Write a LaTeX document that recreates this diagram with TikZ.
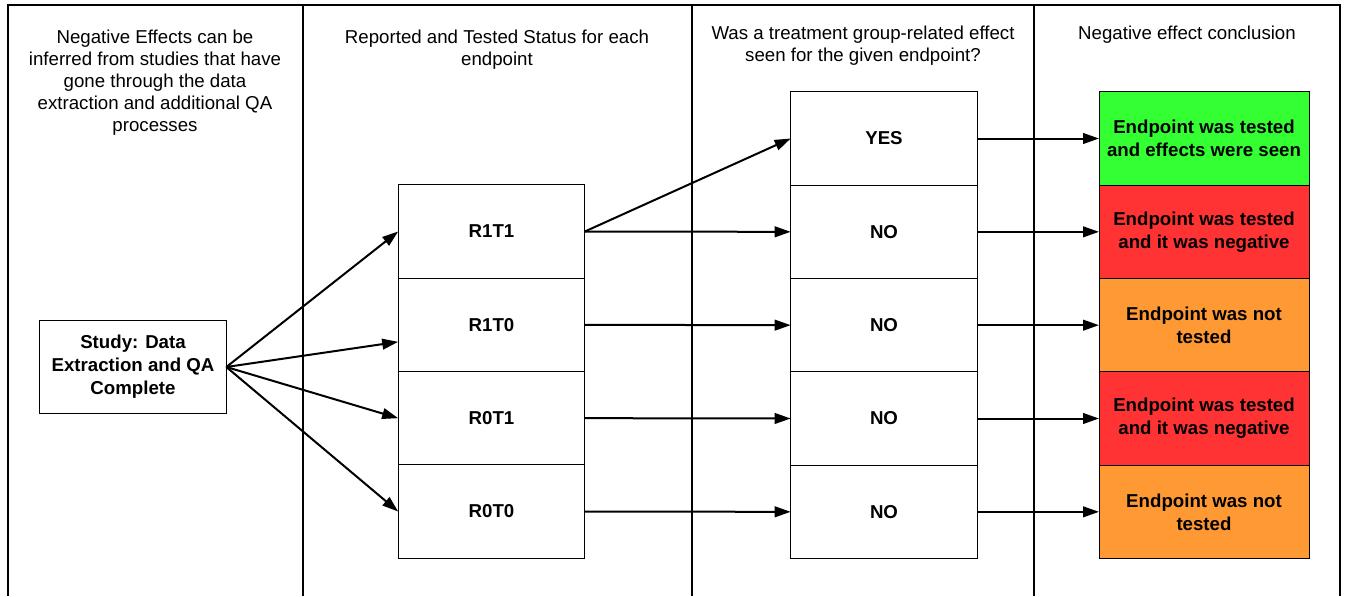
\documentclass[tikz,border=0pt]{standalone}
\usepackage{fontspec}
\setmainfont{Liberation Sans}
\usetikzlibrary{arrows.meta,positioning}
\definecolor{brightgreen}{RGB}{51,255,51}
\definecolor{brightred}{RGB}{255,51,51}
\definecolor{brightorange}{RGB}{255,153,51}

\begin{document}
\begin{tikzpicture}[x=0.75pt, y=-0.75pt, head/.style={align=center, anchor=north, inner sep=0pt, font=\fontsize{14}{16.5}\selectfont}, box/.style={draw, line width=0.75pt, align=center, outer sep=0pt, minimum width=140pt, minimum height=70pt, font=\fontsize{14}{17.25}\selectfont\bfseries}, cbox/.style={box, minimum width=157.5pt}, arr/.style={-{Triangle[length=12pt,width=8pt]}, line width=1.5pt}]
\useasboundingbox (0,0) rectangle (1349,596);
% frame and columns
\draw[line width=1pt] (8,596) -- (8,5) -- (1340,5) -- (1340,596);
\draw[line width=1pt] (303,5) -- (303,596);
\draw[line width=1pt] (692,5) -- (692,596);
\draw[line width=2pt] (1034,5) -- (1034,596);
\node[head] (h1) at (155,30) {Negative Effects can be\\inferred from studies that have\\gone through the data\\extraction and additional QA\\processes};
\node[head] (h2) at (497,30) {Reported and Tested Status for each\\endpoint};
\node[head] (h3) at (863,26) {Was a treatment group-related effect\\seen for the given endpoint?};
\node[head] (h4) at (1187,26) {Negative effect conclusion};
% study
\node[box] (study) at (133,367) {Study: Data\\Extraction and QA\\Complete};
% reported / tested
\node[box] (r11) at (491.5,231.5) {R1T1};
\node[box, below=0pt of r11] (r10) {R1T0};
\node[box, below=0pt of r10] (r01) {R0T1};
\node[box, below=0pt of r01] (r00) {R0T0};
% effect seen
\node[box] (yes) at (884,138.5) {YES};
\node[box, below=0pt of yes] (no1) {NO};
\node[box, below=0pt of no1] (no2) {NO};
\node[box, below=0pt of no2] (no3) {NO};
\node[box, below=0pt of no3] (no4) {NO};
% conclusion
\node[cbox, fill=brightgreen] (c1) at (1204,138.5) {Endpoint was tested\\and effects were seen};
\node[cbox, fill=brightred, below=0pt of c1] (c2) {Endpoint was tested\\and it was negative};
\node[cbox, fill=brightorange, below=0pt of c2] (c3) {Endpoint was not\\tested};
\node[cbox, fill=brightred, below=0pt of c3] (c4) {Endpoint was tested\\and it was negative};
\node[cbox, fill=brightorange, below=0pt of c4] (c5) {Endpoint was not\\tested};
% arrows
\draw[arr] (study.east) -- (r11.west);
\draw[arr] (study.east) -- ([yshift=-12.75pt]r10.west);
\draw[arr] (study.east) -- (r01.west);
\draw[arr] (study.east) -- (r00.west);
\draw[arr] (r11.east) -- (yes.west);
\draw[arr] (r11.east) -- (no1.west);
\draw[arr] (r10.east) -- (no2.west);
\draw[arr] (r01.east) -- (no3.west);
\draw[arr] (r00.east) -- (no4.west);
\draw[arr] (yes.east) -- (c1.west);
\draw[arr] (no1.east) -- (c2.west);
\draw[arr] (no2.east) -- (c3.west);
\draw[arr] (no3.east) -- (c4.west);
\draw[arr] (no4.east) -- (c5.west);
\end{tikzpicture}
\end{document}
